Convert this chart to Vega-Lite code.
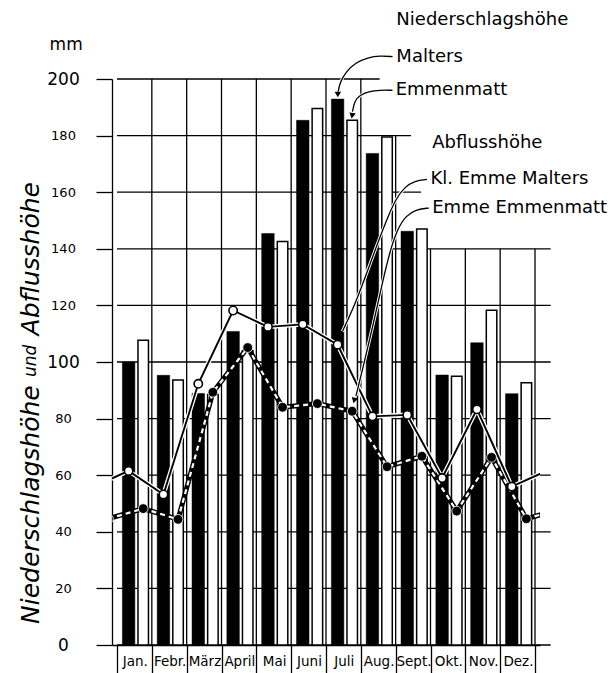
{
  "$schema": "https://vega.github.io/schema/vega-lite/v6.json",
  "width": 428,
  "height": 566,
  "autosize": {"type": "none"},
  "padding": {"left": 112, "top": 79, "right": 74, "bottom": 28},
  "background": "white",
  "config": {"view": {"stroke": null}, "font": "DejaVu Sans"},
  "datasets": {
    "precip": [
      {"month": 1, "station": "Malters", "mm": 100}, {"month": 1, "station": "Emmenmatt", "mm": 107.7},
      {"month": 2, "station": "Malters", "mm": 95.3}, {"month": 2, "station": "Emmenmatt", "mm": 93.6},
      {"month": 3, "station": "Malters", "mm": 88.9}, {"month": 3, "station": "Emmenmatt", "mm": 88.5},
      {"month": 4, "station": "Malters", "mm": 110.8}, {"month": 4, "station": "Emmenmatt", "mm": 104},
      {"month": 5, "station": "Malters", "mm": 145.4}, {"month": 5, "station": "Emmenmatt", "mm": 142.6},
      {"month": 6, "station": "Malters", "mm": 185.4}, {"month": 6, "station": "Emmenmatt", "mm": 189.6},
      {"month": 7, "station": "Malters", "mm": 192.9}, {"month": 7, "station": "Emmenmatt", "mm": 185.4},
      {"month": 8, "station": "Malters", "mm": 173.7}, {"month": 8, "station": "Emmenmatt", "mm": 179.5},
      {"month": 9, "station": "Malters", "mm": 146.2}, {"month": 9, "station": "Emmenmatt", "mm": 147},
      {"month": 10, "station": "Malters", "mm": 95.4}, {"month": 10, "station": "Emmenmatt", "mm": 95},
      {"month": 11, "station": "Malters", "mm": 106.8}, {"month": 11, "station": "Emmenmatt", "mm": 118.3},
      {"month": 12, "station": "Malters", "mm": 88.8}, {"month": 12, "station": "Emmenmatt", "mm": 92.7}
    ],
    "runoff": [
      {"month": 0, "station": "Kl. Emme Malters", "mm": 56}, {"month": 0, "station": "Emme Emmenmatt", "mm": 44.6},
      {"month": 1, "station": "Kl. Emme Malters", "mm": 61.5}, {"month": 1, "station": "Emme Emmenmatt", "mm": 48.2},
      {"month": 2, "station": "Kl. Emme Malters", "mm": 53.2}, {"month": 2, "station": "Emme Emmenmatt", "mm": 44.4},
      {"month": 3, "station": "Kl. Emme Malters", "mm": 92.3}, {"month": 3, "station": "Emme Emmenmatt", "mm": 89.3},
      {"month": 4, "station": "Kl. Emme Malters", "mm": 118.2}, {"month": 4, "station": "Emme Emmenmatt", "mm": 105.1},
      {"month": 5, "station": "Kl. Emme Malters", "mm": 112.4}, {"month": 5, "station": "Emme Emmenmatt", "mm": 84},
      {"month": 6, "station": "Kl. Emme Malters", "mm": 113.3}, {"month": 6, "station": "Emme Emmenmatt", "mm": 85.3},
      {"month": 7, "station": "Kl. Emme Malters", "mm": 106.1}, {"month": 7, "station": "Emme Emmenmatt", "mm": 82.6},
      {"month": 8, "station": "Kl. Emme Malters", "mm": 80.8}, {"month": 8, "station": "Emme Emmenmatt", "mm": 63},
      {"month": 9, "station": "Kl. Emme Malters", "mm": 81.3}, {"month": 9, "station": "Emme Emmenmatt", "mm": 66.7},
      {"month": 10, "station": "Kl. Emme Malters", "mm": 59}, {"month": 10, "station": "Emme Emmenmatt", "mm": 47.3},
      {"month": 11, "station": "Kl. Emme Malters", "mm": 83.3}, {"month": 11, "station": "Emme Emmenmatt", "mm": 66.3},
      {"month": 12, "station": "Kl. Emme Malters", "mm": 56}, {"month": 12, "station": "Emme Emmenmatt", "mm": 44.6},
      {"month": 13, "station": "Kl. Emme Malters", "mm": 61.5}, {"month": 13, "station": "Emme Emmenmatt", "mm": 48.2}
    ],
    "hgrid": [
      {"v": 0, "x0": 0.5, "x1": 12.95}, {"v": 20, "x0": 0.5, "x1": 12.95}, {"v": 40, "x0": 0.5, "x1": 12.95},
      {"v": 60, "x0": 0.5, "x1": 12.95}, {"v": 80, "x0": 0.5, "x1": 12.95}, {"v": 100, "x0": 0.5, "x1": 12.95},
      {"v": 120, "x0": 0.5, "x1": 12.95}, {"v": 140, "x0": 0.5, "x1": 12.95},
      {"v": 160, "x0": 0.5, "x1": 9.23}, {"v": 180, "x0": 0.5, "x1": 8.94}, {"v": 200, "x0": 0.5, "x1": 8.04}
    ],
    "vgrid": [
      {"b": 1.5, "y0": 0, "top": 200}, {"b": 2.5, "y0": 0, "top": 200}, {"b": 3.5, "y0": 0, "top": 200},
      {"b": 4.5, "y0": 0, "top": 200}, {"b": 5.5, "y0": 0, "top": 200}, {"b": 6.5, "y0": 0, "top": 200},
      {"b": 7.5, "y0": 0, "top": 200}, {"b": 8.5, "y0": 0, "top": 180}, {"b": 9.5, "y0": 0, "top": 140},
      {"b": 10.5, "y0": 0, "top": 140}, {"b": 11.5, "y0": 0, "top": 140}, {"b": 12.5, "y0": 0, "top": 140}
    ],
    "notes": [
      {"text": "Niederschlagshöhe", "x": 8.52, "y": 220.7},
      {"text": "Malters", "x": 8.52, "y": 207.9},
      {"text": "Emmenmatt", "x": 8.5, "y": 196},
      {"text": "Abflusshöhe", "x": 9.55, "y": 177.4},
      {"text": "Kl. Emme Malters", "x": 9.5, "y": 164.5},
      {"text": "Emme Emmenmatt", "x": 9.55, "y": 154.4}
    ],
    "arrows": [
      {"a": "Malters", "i": 0, "x": 8.41, "y": 207.9}, {"a": "Malters", "i": 1, "x": 8.05, "y": 208.2},
      {"a": "Malters", "i": 2, "x": 7.7, "y": 207.6}, {"a": "Malters", "i": 3, "x": 7.35, "y": 205.8},
      {"a": "Malters", "i": 4, "x": 7.07, "y": 202.5}, {"a": "Malters", "i": 5, "x": 6.9, "y": 198.8},
      {"a": "Malters", "i": 6, "x": 6.85, "y": 195.5},
      {"a": "Emmenmatt", "i": 0, "x": 8.41, "y": 196}, {"a": "Emmenmatt", "i": 1, "x": 8.05, "y": 196.1},
      {"a": "Emmenmatt", "i": 2, "x": 7.72, "y": 195.6}, {"a": "Emmenmatt", "i": 3, "x": 7.47, "y": 194.3},
      {"a": "Emmenmatt", "i": 4, "x": 7.32, "y": 192.3}, {"a": "Emmenmatt", "i": 5, "x": 7.26, "y": 188.5},
      {"a": "Kl", "i": 0, "x": 9.4, "y": 164.5}, {"a": "Kl", "i": 1, "x": 9.05, "y": 164}, {"a": "Kl", "i": 2, "x": 8.75, "y": 161.8},
      {"a": "Kl", "i": 3, "x": 8.5, "y": 157.5}, {"a": "Kl", "i": 4, "x": 8.25, "y": 150.5}, {"a": "Kl", "i": 5, "x": 7.95, "y": 141},
      {"a": "Kl", "i": 6, "x": 7.6, "y": 129}, {"a": "Kl", "i": 7, "x": 7.25, "y": 118}, {"a": "Kl", "i": 8, "x": 6.97, "y": 110.8},
      {"a": "EE", "i": 0, "x": 9.45, "y": 154.4}, {"a": "EE", "i": 1, "x": 9.1, "y": 154}, {"a": "EE", "i": 2, "x": 8.8, "y": 151.8},
      {"a": "EE", "i": 3, "x": 8.55, "y": 147}, {"a": "EE", "i": 4, "x": 8.33, "y": 139}, {"a": "EE", "i": 5, "x": 8.1, "y": 127},
      {"a": "EE", "i": 6, "x": 7.85, "y": 113}, {"a": "EE", "i": 7, "x": 7.6, "y": 100}, {"a": "EE", "i": 8, "x": 7.36, "y": 88}
    ]
  },
  "layer": [
    {
      "data": {"name": "hgrid"},
      "mark": {"type": "rule", "color": "black", "strokeWidth": 1.3},
      "encoding": {
        "y": {"field": "v", "type": "quantitative", "title": null, "scale": {"domain": [0, 200], "nice": false, "zero": false},
          "axis": {"values": [0, 20, 40, 60, 80, 100, 120, 140, 160, 180, 200], "tickCount": 30, "ticks": true, "tickSize": 16, "tickColor": "black", "tickWidth": 1.3, "domain": true, "domainColor": "black", "domainWidth": 1.3, "grid": false, "title": null,
            "labelAlign": "center", "labelBaseline": "middle", "labelPadding": 33, "labelColor": "black", "labelFont": "DejaVu Sans", "labelOverlap": false, "labelFlush": false,
            "labelFontSize": {"condition": {"test": "datum.value % 100 === 0", "value": 17}, "value": 13}}},
        "x": {"field": "x0", "type": "quantitative", "title": null, "scale": {"domain": [0.5, 12.5], "nice": false, "zero": false},
          "axis": {"values": [0.5, 1.5, 2.5, 3.5, 4.5, 5.5, 6.5, 7.5, 8.5, 9.5, 10.5, 11.5, 12.5], "tickCount": 30,
            "labelExpr": "datum.value < 12 ? ['Jan.','Febr.','März','April','Mai','Juni','Juli','Aug.','Sept.','Okt.','Nov.','Dez.'][floor(datum.value)] : ''",
            "labelOffset": 17.8, "labelPadding": -14, "labelBaseline": "middle", "labelAlign": "center", "labelFontSize": 13.5, "labelColor": "black", "labelFont": "DejaVu Sans", "labelOverlap": false, "labelFlush": false, "labelBound": false,
            "ticks": true, "tickSize": 30, "tickColor": "black", "tickWidth": 1.3, "domain": true, "domainColor": "black", "domainWidth": 1.3, "grid": false, "title": null}},
        "x2": {"field": "x1"}
      }
    },
    {
      "data": {"name": "vgrid"},
      "mark": {"type": "rule", "color": "black", "strokeWidth": 1.3},
      "encoding": {
        "x": {"field": "b", "type": "quantitative", "title": null, "scale": {"domain": [0.5, 12.5], "nice": false, "zero": false}},
        "y": {"field": "y0", "type": "quantitative", "title": null, "scale": {"domain": [0, 200], "nice": false, "zero": false}},
        "y2": {"field": "top"}
      }
    },
    {
      "data": {"name": "precip"},
      "transform": [{"filter": "datum.station === 'Emmenmatt'"}],
      "mark": {"type": "bar", "width": 10.5, "xOffset": 8.8, "fill": "white", "stroke": "black", "strokeWidth": 1.5},
      "encoding": {
        "x": {"field": "month", "type": "quantitative", "title": null, "scale": {"domain": [0.5, 12.5], "nice": false, "zero": false}},
        "y": {"field": "mm", "type": "quantitative", "title": null, "scale": {"domain": [0, 200], "nice": false, "zero": false}}
      }
    },
    {
      "data": {"name": "precip"},
      "transform": [{"filter": "datum.station === 'Malters'"}],
      "mark": {"type": "bar", "width": 12.5, "xOffset": -5.8, "fill": "black", "stroke": "black", "strokeWidth": 0.5},
      "encoding": {
        "x": {"field": "month", "type": "quantitative", "title": null, "scale": {"domain": [0.5, 12.5], "nice": false, "zero": false}},
        "y": {"field": "mm", "type": "quantitative", "title": null, "scale": {"domain": [0, 200], "nice": false, "zero": false}}
      }
    },
    {
      "data": {"name": "runoff"},
      "transform": [{"filter": "datum.station === 'Emme Emmenmatt'"}],
      "mark": {"type": "line", "clip": true, "xOffset": 8.8, "color": "black", "strokeWidth": 5},
      "encoding": {
        "x": {"field": "month", "type": "quantitative", "title": null, "scale": {"domain": [0.5, 12.5], "nice": false, "zero": false}},
        "y": {"field": "mm", "type": "quantitative", "title": null, "scale": {"domain": [0, 200], "nice": false, "zero": false}}
      }
    },
    {
      "data": {"name": "runoff"},
      "transform": [{"filter": "datum.station === 'Emme Emmenmatt'"}],
      "mark": {"type": "line", "clip": true, "xOffset": 8.8, "color": "white", "strokeWidth": 2.2, "strokeDash": [5, 4]},
      "encoding": {
        "x": {"field": "month", "type": "quantitative", "title": null, "scale": {"domain": [0.5, 12.5], "nice": false, "zero": false}},
        "y": {"field": "mm", "type": "quantitative", "title": null, "scale": {"domain": [0, 200], "nice": false, "zero": false}}
      }
    },
    {
      "data": {"name": "runoff"},
      "transform": [{"filter": "datum.station === 'Kl. Emme Malters'"}],
      "mark": {"type": "line", "clip": true, "xOffset": -5.8, "color": "white", "strokeWidth": 4.5},
      "encoding": {
        "x": {"field": "month", "type": "quantitative", "title": null, "scale": {"domain": [0.5, 12.5], "nice": false, "zero": false}},
        "y": {"field": "mm", "type": "quantitative", "title": null, "scale": {"domain": [0, 200], "nice": false, "zero": false}}
      }
    },
    {
      "data": {"name": "runoff"},
      "transform": [{"filter": "datum.station === 'Kl. Emme Malters'"}],
      "mark": {"type": "line", "clip": true, "xOffset": -5.8, "color": "black", "strokeWidth": 1.9},
      "encoding": {
        "x": {"field": "month", "type": "quantitative", "title": null, "scale": {"domain": [0.5, 12.5], "nice": false, "zero": false}},
        "y": {"field": "mm", "type": "quantitative", "title": null, "scale": {"domain": [0, 200], "nice": false, "zero": false}}
      }
    },
    {
      "data": {"name": "runoff"},
      "transform": [{"filter": "datum.station === 'Emme Emmenmatt'"}],
      "mark": {"type": "point", "clip": true, "xOffset": 8.8, "shape": "circle", "filled": true, "size": 95, "fill": "black", "stroke": "white", "strokeWidth": 0.8, "opacity": 1},
      "encoding": {
        "x": {"field": "month", "type": "quantitative", "title": null, "scale": {"domain": [0.5, 12.5], "nice": false, "zero": false}},
        "y": {"field": "mm", "type": "quantitative", "title": null, "scale": {"domain": [0, 200], "nice": false, "zero": false}}
      }
    },
    {
      "data": {"name": "runoff"},
      "transform": [{"filter": "datum.station === 'Kl. Emme Malters'"}],
      "mark": {"type": "point", "clip": true, "xOffset": -5.8, "shape": "circle", "filled": true, "size": 70, "fill": "white", "stroke": "black", "strokeWidth": 1.6, "opacity": 1},
      "encoding": {
        "x": {"field": "month", "type": "quantitative", "title": null, "scale": {"domain": [0.5, 12.5], "nice": false, "zero": false}},
        "y": {"field": "mm", "type": "quantitative", "title": null, "scale": {"domain": [0, 200], "nice": false, "zero": false}}
      }
    },
    {
      "data": {"name": "arrows"},
      "mark": {"type": "line", "interpolate": "basis", "color": "white", "strokeWidth": 3.2},
      "encoding": {
        "x": {"field": "x", "type": "quantitative", "title": null, "scale": {"domain": [0.5, 12.5], "nice": false, "zero": false}},
        "y": {"field": "y", "type": "quantitative", "title": null, "scale": {"domain": [0, 200], "nice": false, "zero": false}},
        "detail": {"field": "a", "type": "nominal"},
        "order": {"field": "i", "type": "quantitative"}
      }
    },
    {
      "data": {"name": "arrows"},
      "mark": {"type": "line", "interpolate": "basis", "color": "black", "strokeWidth": 1.3},
      "encoding": {
        "x": {"field": "x", "type": "quantitative", "title": null, "scale": {"domain": [0.5, 12.5], "nice": false, "zero": false}},
        "y": {"field": "y", "type": "quantitative", "title": null, "scale": {"domain": [0, 200], "nice": false, "zero": false}},
        "detail": {"field": "a", "type": "nominal"},
        "order": {"field": "i", "type": "quantitative"}
      }
    },
    {
      "data": {"values": [{"x": 6.84, "y": 194.5}]},
      "mark": {"type": "point", "shape": "triangle-down", "filled": true, "size": 42, "fill": "black", "opacity": 1},
      "encoding": {
        "x": {"field": "x", "type": "quantitative", "title": null, "scale": {"domain": [0.5, 12.5], "nice": false, "zero": false}},
        "y": {"field": "y", "type": "quantitative", "title": null, "scale": {"domain": [0, 200], "nice": false, "zero": false}}
      }
    },
    {
      "data": {"values": [{"x": 7.25, "y": 187}]},
      "mark": {"type": "point", "shape": "triangle-down", "angle": 10, "filled": true, "size": 42, "fill": "black", "opacity": 1},
      "encoding": {
        "x": {"field": "x", "type": "quantitative", "title": null, "scale": {"domain": [0.5, 12.5], "nice": false, "zero": false}},
        "y": {"field": "y", "type": "quantitative", "title": null, "scale": {"domain": [0, 200], "nice": false, "zero": false}}
      }
    },
    {
      "data": {"values": [{"x": 6.9, "y": 109.4}]},
      "mark": {"type": "point", "shape": "triangle-down", "angle": 28, "filled": true, "size": 42, "fill": "black", "opacity": 1},
      "encoding": {
        "x": {"field": "x", "type": "quantitative", "title": null, "scale": {"domain": [0.5, 12.5], "nice": false, "zero": false}},
        "y": {"field": "y", "type": "quantitative", "title": null, "scale": {"domain": [0, 200], "nice": false, "zero": false}}
      }
    },
    {
      "data": {"values": [{"x": 7.31, "y": 86.4}]},
      "mark": {"type": "point", "shape": "triangle-down", "angle": 15, "filled": true, "size": 42, "fill": "black", "opacity": 1},
      "encoding": {
        "x": {"field": "x", "type": "quantitative", "title": null, "scale": {"domain": [0.5, 12.5], "nice": false, "zero": false}},
        "y": {"field": "y", "type": "quantitative", "title": null, "scale": {"domain": [0, 200], "nice": false, "zero": false}}
      }
    },
    {
      "data": {"name": "notes"},
      "mark": {"type": "text", "align": "left", "baseline": "middle", "fontSize": 18, "font": "DejaVu Sans", "color": "black"},
      "encoding": {
        "x": {"field": "x", "type": "quantitative", "title": null, "scale": {"domain": [0.5, 12.5], "nice": false, "zero": false}},
        "y": {"field": "y", "type": "quantitative", "title": null, "scale": {"domain": [0, 200], "nice": false, "zero": false}},
        "text": {"field": "text", "type": "nominal"}
      }
    },
    {
      "data": {"values": [{"text": "mm", "x": -0.96, "y": 211.9}]},
      "mark": {"type": "text", "align": "center", "baseline": "middle", "fontSize": 17, "font": "DejaVu Sans", "color": "black"},
      "encoding": {
        "x": {"field": "x", "type": "quantitative", "title": null, "scale": {"domain": [0.5, 12.5], "nice": false, "zero": false}},
        "y": {"field": "y", "type": "quantitative", "title": null, "scale": {"domain": [0, 200], "nice": false, "zero": false}},
        "text": {"field": "text", "type": "nominal"}
      }
    },
    {
      "data": {"values": [{"text": "Niederschlagshöhe", "x": -1.97, "y": 49.6}, {"text": "Abflusshöhe", "x": -1.97, "y": 136.5}]},
      "mark": {"type": "text", "align": "center", "baseline": "middle", "angle": 270, "fontSize": 25, "fontStyle": "italic", "font": "DejaVu Sans", "color": "black"},
      "encoding": {
        "x": {"field": "x", "type": "quantitative", "title": null, "scale": {"domain": [0.5, 12.5], "nice": false, "zero": false}},
        "y": {"field": "y", "type": "quantitative", "title": null, "scale": {"domain": [0, 200], "nice": false, "zero": false}},
        "text": {"field": "text", "type": "nominal"}
      }
    },
    {
      "data": {"values": [{"text": "und", "x": -1.97, "y": 100.4}]},
      "mark": {"type": "text", "align": "center", "baseline": "middle", "angle": 270, "fontSize": 17, "fontStyle": "italic", "font": "DejaVu Sans", "color": "black"},
      "encoding": {
        "x": {"field": "x", "type": "quantitative", "title": null, "scale": {"domain": [0.5, 12.5], "nice": false, "zero": false}},
        "y": {"field": "y", "type": "quantitative", "title": null, "scale": {"domain": [0, 200], "nice": false, "zero": false}},
        "text": {"field": "text", "type": "nominal"}
      }
    }
  ]
}
